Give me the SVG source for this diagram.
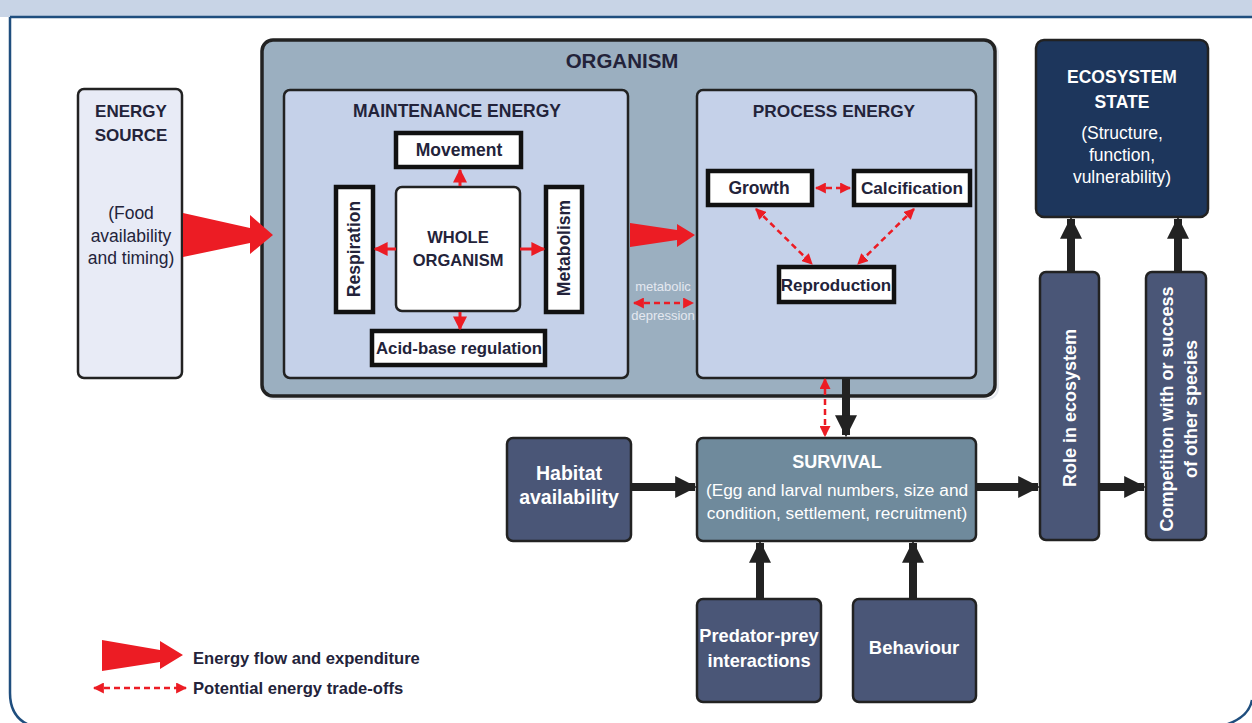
<svg xmlns="http://www.w3.org/2000/svg" width="1252" height="723" viewBox="0 0 1252 723">
<defs>
<style>
.t{font-family:"Liberation Sans",Arial,sans-serif;text-anchor:middle;}
.b{font-weight:bold;}
.dk{fill:#23233a;}
.wh{fill:#ffffff;}
.box{stroke:#222;stroke-width:2.5;}
.sbox{fill:#fff;stroke:#111;stroke-width:4.5;}
.blk{stroke:#222;stroke-width:8;fill:none;}
.rd{stroke:#ec1c24;stroke-width:2.5;fill:none;stroke-dasharray:6 4;}
.rs{stroke:#ec1c24;stroke-width:3;fill:none;}
</style>
<marker id="ah" viewBox="0 0 10 10" refX="9" refY="5" markerWidth="22" markerHeight="22" markerUnits="userSpaceOnUse" orient="auto-start-reverse">
<path d="M0,0 L10,5 L0,10 z" fill="#222"/>
</marker>
<marker id="rh" viewBox="0 0 10 10" refX="9" refY="5" markerWidth="11" markerHeight="11" markerUnits="userSpaceOnUse" orient="auto-start-reverse">
<path d="M0,0 L10,5 L0,10 z" fill="#ec1c24"/>
</marker>
<marker id="rh2" viewBox="0 0 10 10" refX="9" refY="5" markerWidth="14" markerHeight="14" markerUnits="userSpaceOnUse" orient="auto-start-reverse">
<path d="M0,0 L10,5 L0,10 z" fill="#ec1c24"/>
</marker>
</defs>

<!-- frame -->
<rect x="0" y="0" width="1252" height="17" fill="#c8d4e6"/>
<path d="M10,17 L10,693 Q10,723 40,728 M1212,728 Q1248,722 1252,700" fill="none" stroke="#1f4e7e" stroke-width="2.5"/>
<line x1="10" y1="17" x2="1252" y2="17" stroke="#1f4e7e" stroke-width="2.5"/>

<!-- Energy source -->
<g id="energy-source">
<rect class="box" x="78" y="89" width="104" height="289" rx="6" fill="#e8ebf6"/>
<text class="t b dk" x="131" y="117" font-size="17">ENERGY</text>
<text class="t b dk" x="131" y="141" font-size="17">SOURCE</text>
<text class="t dk" x="131" y="219" font-size="17.5">(Food</text>
<text class="t dk" x="131" y="242" font-size="17.5">availability</text>
<text class="t dk" x="131" y="264" font-size="17.5">and timing)</text>
</g>

<!-- Organism -->
<g id="organism">
<rect x="264" y="42" width="734" height="357" rx="11" fill="none" stroke="#e5e8ee" stroke-width="2"/>
<rect x="262" y="40" width="733" height="356" rx="11" fill="#9bafc0" stroke="#222" stroke-width="3.5"/>
<text class="t b dk" x="622" y="68" font-size="20.5">ORGANISM</text>
</g>

<g id="maintenance-energy">
<rect class="box" x="284" y="90" width="344" height="288" rx="6" fill="#c5d1e9"/>
<text class="t b dk" x="457" y="117" font-size="17.5">MAINTENANCE ENERGY</text>
</g>
<g id="movement">
<rect class="sbox" x="396" y="133" width="125" height="34"/>
<text class="t b dk" x="459" y="156" font-size="17.5">Movement</text>
</g>
<g id="whole-organism">
<rect x="396" y="187" width="124" height="124" rx="6" fill="#fff" stroke="#222" stroke-width="2.5"/>
<text class="t b dk" x="458" y="243" font-size="16.5">WHOLE</text>
<text class="t b dk" x="458" y="266" font-size="16.5">ORGANISM</text>
</g>
<g id="respiration">
<rect class="sbox" x="336" y="187" width="37" height="125"/>
<text class="t b dk" font-size="17.5" transform="translate(360,249) rotate(-90)">Respiration</text>
</g>
<g id="metabolism">
<rect class="sbox" x="546" y="187" width="36" height="125"/>
<text class="t b dk" font-size="17.5" transform="translate(570,248) rotate(-90)">Metabolism</text>
</g>
<g id="acid-base">
<rect class="sbox" x="372" y="331" width="173" height="34"/>
<text class="t b dk" x="459" y="354" font-size="16.8">Acid-base regulation</text>
</g>

<g id="metabolic-depression">
<text class="t" x="663" y="291" font-size="13" fill="#e4e8f0">metabolic</text>
<text class="t" x="663" y="320" font-size="13" fill="#e4e8f0">depression</text>
</g>

<g id="process-energy">
<rect class="box" x="697" y="90" width="279" height="288" rx="6" fill="#c5d1e9"/>
<text class="t b dk" x="834" y="117" font-size="17.3">PROCESS ENERGY</text>
</g>
<g id="growth">
<rect class="sbox" x="708" y="171" width="104" height="34"/>
<text class="t b dk" x="759" y="194" font-size="17.5">Growth</text>
</g>
<g id="calcification">
<rect class="sbox" x="854" y="171" width="116" height="34"/>
<text class="t b dk" x="912" y="194" font-size="17.2">Calcification</text>
</g>
<g id="reproduction">
<rect class="sbox" x="779" y="267" width="115" height="35"/>
<text class="t b dk" x="836" y="291" font-size="17">Reproduction</text>
</g>

<!-- Survival -->
<g id="survival">
<rect class="box" x="697" y="438" width="279" height="103" rx="6" fill="#6f8a9c"/>
<text class="t b wh" x="837" y="468" font-size="18">SURVIVAL</text>
<text class="t wh" x="837" y="496" font-size="17.3">(Egg and larval numbers, size and</text>
<text class="t wh" x="837" y="519" font-size="17.3">condition, settlement, recruitment)</text>
</g>
<g id="habitat">
<rect class="box" x="507" y="438" width="124" height="103" rx="6" fill="#4a5677"/>
<text class="t b wh" x="569" y="480" font-size="19.5">Habitat</text>
<text class="t b wh" x="569" y="504" font-size="19.5">availability</text>
</g>
<g id="predator-prey">
<rect class="box" x="697" y="599" width="124" height="103" rx="6" fill="#4a5677"/>
<text class="t b wh" x="759" y="642" font-size="18.2">Predator-prey</text>
<text class="t b wh" x="759" y="667" font-size="18.2">interactions</text>
</g>
<g id="behaviour">
<rect class="box" x="853" y="599" width="123" height="103" rx="6" fill="#4a5677"/>
<text class="t b wh" x="914" y="654" font-size="18.5">Behaviour</text>
</g>

<g id="role">
<rect class="box" x="1040" y="272" width="59" height="268" rx="6" fill="#4a5677"/>
<text class="t b wh" font-size="18" transform="translate(1076,408) rotate(-90)">Role in ecosystem</text>
</g>
<g id="competition">
<rect class="box" x="1146" y="272" width="60" height="268" rx="6" fill="#4a5677"/>
<text class="t b wh" font-size="18" transform="translate(1173,409) rotate(-90)">Competition with or success</text>
<text class="t b wh" font-size="18" transform="translate(1197,409) rotate(-90)">of other species</text>
</g>
<g id="ecosystem-state">
<rect class="box" x="1036" y="40" width="172" height="177" rx="8" fill="#1d365c"/>
<text class="t b wh" x="1122" y="83" font-size="17.5">ECOSYSTEM</text>
<text class="t b wh" x="1122" y="108" font-size="17.5">STATE</text>
<text class="t wh" x="1122" y="139" font-size="17.5">(Structure,</text>
<text class="t wh" x="1122" y="161" font-size="17.5">function,</text>
<text class="t wh" x="1122" y="183" font-size="17.5">vulnerability)</text>
</g>

<!-- connectors -->
<g id="connectors">
<polygon points="183,213 250,228 250,215 273,235 250,254 250,243 183,257" fill="#ec1c24"/>
<polygon points="630,223 677,230 677,224 695,235 677,247 677,240 630,247" fill="#ec1c24"/>
<line class="rs" x1="460" y1="186" x2="460" y2="170" marker-end="url(#rh2)"/>
<line class="rs" x1="396" y1="249" x2="375" y2="249" marker-end="url(#rh2)"/>
<line class="rs" x1="520" y1="249" x2="544" y2="249" marker-end="url(#rh2)"/>
<line class="rs" x1="460" y1="312" x2="460" y2="329" marker-end="url(#rh2)"/>
<line class="rd" x1="634" y1="303" x2="693" y2="303" marker-start="url(#rh)" marker-end="url(#rh)"/>
<line class="rd" x1="816" y1="188" x2="850" y2="188" marker-start="url(#rh)" marker-end="url(#rh)"/>
<line class="rd" x1="756" y1="209" x2="812" y2="264" marker-start="url(#rh)" marker-end="url(#rh)"/>
<line class="rd" x1="914" y1="209" x2="858" y2="264" marker-start="url(#rh)" marker-end="url(#rh)"/>
<line class="rd" x1="825" y1="379" x2="825" y2="436" marker-start="url(#rh)" marker-end="url(#rh)"/>
<line class="blk" x1="846" y1="378" x2="846" y2="435" marker-end="url(#ah)"/>
<line class="blk" x1="631" y1="487" x2="695" y2="487" marker-end="url(#ah)"/>
<line class="blk" x1="760" y1="599" x2="760" y2="543" marker-end="url(#ah)"/>
<line class="blk" x1="913" y1="599" x2="913" y2="543" marker-end="url(#ah)"/>
<line class="blk" x1="976" y1="487" x2="1038" y2="487" marker-end="url(#ah)"/>
<line class="blk" x1="1099" y1="487" x2="1144" y2="487" marker-end="url(#ah)"/>
<line class="blk" x1="1071" y1="272" x2="1071" y2="219" marker-end="url(#ah)"/>
<line class="blk" x1="1178" y1="272" x2="1178" y2="219" marker-end="url(#ah)"/>
</g>

<!-- legend -->
<g id="legend">
<polygon points="102,640 160,650 160,641 183,655 160,669 160,662 102,671" fill="#ec1c24"/>
<line class="rd" x1="94" y1="688" x2="186" y2="688" marker-start="url(#rh)" marker-end="url(#rh)"/>
<text class="b dk" x="193" y="664" font-size="16.6" font-family="Liberation Sans, Arial, sans-serif">Energy flow and expenditure</text>
<text class="b dk" x="193" y="694" font-size="16.6" font-family="Liberation Sans, Arial, sans-serif">Potential energy trade-offs</text>
</g>
</svg>
